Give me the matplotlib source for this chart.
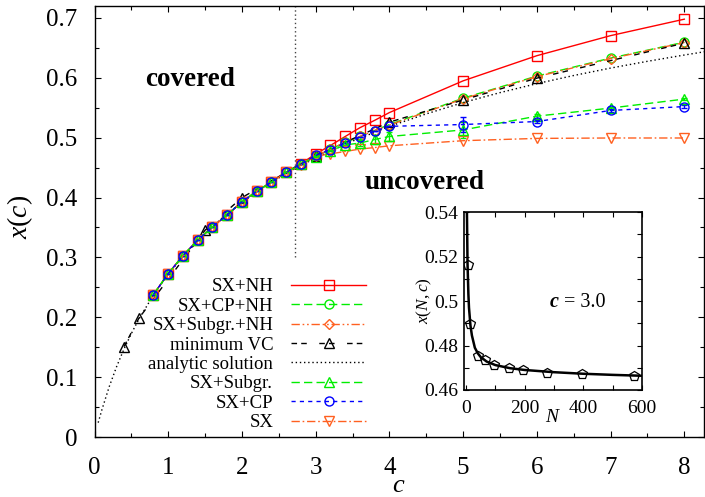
import matplotlib
matplotlib.use('Agg')
import matplotlib.pyplot as plt
from matplotlib.ticker import MultipleLocator, FuncFormatter

plt.rcParams['font.family'] = ['Liberation Serif', 'DejaVu Serif']
plt.rcParams['mathtext.fontset'] = 'custom'
plt.rcParams['mathtext.rm'] = 'Liberation Serif'
plt.rcParams['mathtext.it'] = 'Liberation Serif:italic'
plt.rcParams['mathtext.bf'] = 'Liberation Serif:bold'

# ---------------- data ----------------
c_sx = [0.8, 1.0, 1.2, 1.4, 1.6, 1.8, 2.0, 2.2, 2.4, 2.6, 2.8, 3.0,
        3.2, 3.4, 3.6, 3.8, 4.0, 5.0, 6.0, 7.0, 8.0]
low = [0.238, 0.273, 0.303, 0.329, 0.351, 0.371, 0.393, 0.4105, 0.426, 0.442, 0.456]

sx_nh = low[:9] + [0.4428, 0.4567, 0.4728,
                   0.487, 0.502, 0.5167, 0.529, 0.542, 0.595, 0.637, 0.6705, 0.698]
sx_cp_nh = low + [0.469, 0.481, 0.492, 0.502, 0.512, 0.522, 0.566, 0.603, 0.633, 0.6595]
sx_sub_nh = low + [0.469, 0.481, 0.492, 0.502, 0.512, 0.521, 0.565, 0.602, 0.632, 0.659]
sx_sub = low + [0.468, 0.478, 0.488, 0.491, 0.497, 0.502, 0.513, 0.536, 0.5495, 0.5645]
sx_sub_err = [0]*14 + [0.005, 0.007, 0.008, 0.013, 0.004, 0.002, 0.002]
sx_cp = low + [0.4705, 0.480, 0.491, 0.501, 0.511, 0.519, 0.522, 0.527, 0.5455, 0.552]
sx_cp_err = [0]*17 + [0.013, 0.003, 0.002, 0.002]
sx = low[:10] + [0.454, 0.469, 0.473, 0.477, 0.481, 0.4835, 0.4865, 0.495, 0.4988, 0.4995, 0.4995]

c_vc = [0.4, 0.6, 1.5, 2.0, 3.0, 4.0, 5.0, 6.0, 8.0]
min_vc = [0.151, 0.198, 0.3455, 0.400, 0.470, 0.526, 0.563, 0.5995, 0.658]

c_an = [0.05, 0.1, 0.2, 0.3, 0.4, 0.5, 0.6, 0.8, 1.0, 1.25, 1.5, 1.75, 2.0, 2.25,
        2.5, 2.718, 3.0, 3.5, 4.0, 4.5, 5.0, 5.5, 6.0, 6.5, 7.0, 7.5, 8.0, 8.3]
x_an = [0.024, 0.0454, 0.0842, 0.1176, 0.1469, 0.1728, 0.1965, 0.2373, 0.2720, 0.309,
        0.3404, 0.3679, 0.3920, 0.4134, 0.4328, 0.4482, 0.4663, 0.4943, 0.5188, 0.5398,
        0.5587, 0.5753, 0.5903, 0.6039, 0.6163, 0.6276, 0.6381, 0.6441]

c_crit = 2.718
crit_line = [0.30, 0.72]

# inset
N_pts = [5, 14, 42, 65, 94, 145, 195, 277, 397, 572]
x_pts = [0.516, 0.4897, 0.4752, 0.4734, 0.4713, 0.4698, 0.469, 0.4675, 0.467, 0.4664]
N_fit = [1, 2, 3, 5, 8, 10, 15, 20, 30, 40, 50, 70, 100, 150, 200, 300, 400, 500, 600]
x_fit = [0.62, 0.565, 0.540, 0.517, 0.503, 0.497, 0.489, 0.4845, 0.479, 0.4765, 0.4748,
         0.4728, 0.4712, 0.4698, 0.469, 0.468, 0.4673, 0.4668, 0.4664]

RED = '#ff0000'
GREEN = '#00ee00'
ORANGE = '#ff6020'
BLUE = '#0000ff'

fig = plt.figure(figsize=(7.05, 4.97), dpi=100)
ax = fig.add_axes([94.5/705, 60/497, 609/705, 431/497])

ms = 6.5
mew = 1.0
lw = 1.0

l_nh, = ax.plot(c_sx, sx_nh, color=RED, lw=lw, marker='s', ms=ms, mfc='none', mew=mew,
                label='SX+NH')
l_cpnh, = ax.plot(c_sx, sx_cp_nh, color=GREEN, lw=lw, dashes=(6, 3), marker='o', ms=ms,
                  mfc='none', mew=mew, label='SX+CP+NH')
l_subnh, = ax.plot(c_sx, sx_sub_nh, color=ORANGE, lw=lw, dashes=(6, 2, 1.2, 2, 1.2, 2),
                   marker='D', ms=5, mfc='none', mew=mew, label='SX+Subgr.+NH')
l_vc, = ax.plot(c_vc, min_vc, color='black', lw=lw, dashes=(4, 3, 4, 9), marker='^',
                ms=ms, mfc='none', mew=mew, label='minimum VC')
l_an, = ax.plot(c_an, x_an, color='black', lw=lw, dashes=(1, 2), label='analytic solution')
eb_sub = ax.errorbar(c_sx, sx_sub, yerr=sx_sub_err, color=GREEN, lw=lw, dashes=(6, 3),
                     marker='^', ms=ms, mfc='none', mew=mew, capsize=2, elinewidth=lw)
eb_cp = ax.errorbar(c_sx, sx_cp, yerr=sx_cp_err, color=BLUE, lw=lw, dashes=(3, 3),
                    marker='o', ms=ms, mfc='none', mew=mew, capsize=2, elinewidth=lw)
l_sx, = ax.plot(c_sx, sx, color=ORANGE, lw=lw, dashes=(6, 2, 1.2, 2), marker='v', ms=ms,
                mfc='none', mew=mew, label='SX')

ax.plot([c_crit, c_crit], crit_line, color='#444444', lw=1.0, dashes=(1, 2))

ax.set_xlim(0, 8.26)
ax.set_ylim(0, 0.72)
ax.xaxis.set_major_locator(MultipleLocator(1))
ax.xaxis.set_minor_locator(MultipleLocator(0.5))
ax.yaxis.set_major_locator(MultipleLocator(0.1))
ax.yaxis.set_minor_locator(MultipleLocator(0.05))
fmt = FuncFormatter(lambda v, p: ('%g' % round(v, 4)))
ax.xaxis.set_major_formatter(fmt)
ax.yaxis.set_major_formatter(fmt)
ax.tick_params(which='both', direction='in', top=True, right=True, width=0.8)
ax.tick_params(which='major', length=4.5, labelsize=18)
ax.tick_params(which='minor', length=3)
ax.tick_params(axis='y', pad=12.5)
ax.tick_params(axis='x', pad=14.5)
for s in ax.spines.values():
    s.set_linewidth(1.0)

ax.set_xlabel('$c$', fontsize=19)
ax.xaxis.set_label_coords(0.5, -0.088)
ax.set_ylabel('$x(c)$', fontsize=20)
ax.yaxis.set_label_coords(-0.098, 0.51)

ax.text(1.30, 0.597, 'covered', fontsize=19.5, fontweight='bold', ha='center', va='center')
ax.text(4.48, 0.425, 'uncovered', fontsize=19.5, fontweight='bold', ha='center', va='center')

handles = [l_nh, l_cpnh, l_subnh, l_vc, l_an, eb_sub.lines[0], eb_cp.lines[0], l_sx]
labels = ['SX+NH', 'SX+CP+NH', 'SX+Subgr.+NH', 'minimum VC', 'analytic solution',
          'SX+Subgr.', 'SX+CP', 'SX']
leg = ax.legend(handles, labels, loc='upper right',
                bbox_to_anchor=(366/705, (497-278)/497),
                bbox_transform=fig.transFigure, frameon=False, markerfirst=False,
                fontsize=13.5, handlelength=4.0, handletextpad=0.95,
                labelspacing=0.125, borderpad=0, borderaxespad=0, numpoints=1)

# ---------------- inset ----------------
ax2 = fig.add_axes([464/705, 107/497, 178/705, 178/497])
ax2.plot(N_fit, x_fit, color='black', lw=1.8)
ax2.plot(N_pts, x_pts, linestyle='none', marker='p', ms=7, mfc='none', mec='black', mew=0.9)
ax2.set_xlim(-7, 600)
ax2.set_ylim(0.46, 0.54)
ax2.xaxis.set_major_locator(MultipleLocator(200))
ax2.xaxis.set_minor_locator(MultipleLocator(100))
ax2.yaxis.set_major_locator(MultipleLocator(0.02))
ax2.yaxis.set_minor_locator(MultipleLocator(0.01))
ax2.xaxis.set_major_formatter(fmt)
ax2.yaxis.set_major_formatter(fmt)
ax2.tick_params(which='both', direction='in', top=True, right=True, width=0.8,
                length=3.5, labelsize=14)
ax2.tick_params(axis='y', pad=4)
ax2.tick_params(axis='x', pad=7.5)
for s in ax2.spines.values():
    s.set_linewidth(1.2)
ax2.set_xlabel('$N$', fontsize=14)
ax2.xaxis.set_label_coords(0.5, -0.105)
ax2.set_ylabel('$x(N,c)$', fontsize=12.5)
ax2.yaxis.set_label_coords(-0.17, 0.5)
t1 = ax2.text(285, 0.4995, 'c', fontsize=14.5, fontweight='bold', style='italic',
              ha='left', va='center')
ax2.annotate(' = 3.0', xy=(1, 0), xycoords=t1, ha='left', va='bottom', fontsize=14.5)

fig.savefig('out.png', dpi=100)
